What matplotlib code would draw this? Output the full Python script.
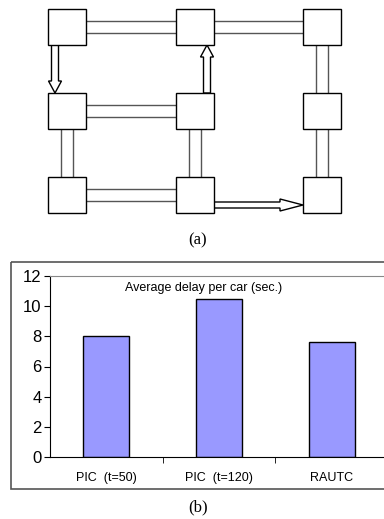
import matplotlib.pyplot as plt
from matplotlib.patches import Rectangle, FancyArrow

# bar chart data
categories = ["PIC  (t=50)", "PIC  (t=120)", "RAUTC"]
delays = [8.0, 10.45, 7.65]
yticks = [0, 2, 4, 6, 8, 10, 12]

# road grid diagram (a): node centres in pixels, roads and arrows as node pairs
col_x = [67, 195, 322]
row_y = [27, 111, 195]
roads = [((0, 0), (1, 0)), ((1, 0), (2, 0)), ((0, 1), (1, 1)), ((0, 2), (1, 2)),
         ((0, 1), (0, 2)), ((1, 1), (1, 2)), ((2, 0), (2, 1)), ((2, 1), (2, 2))]
arrows = [((0, 0), (0, 1), -12), ((1, 1), (1, 0), 12), ((1, 2), (2, 2), 10)]

W, H = 384, 519
BOX_W, BOX_H = 38, 36

plt.rcParams['font.family'] = ['Liberation Sans', 'DejaVu Sans']
fig = plt.figure(figsize=(W / 100, H / 100), dpi=100)

# overlay axes in pixel coordinates for diagram and frame
ov = fig.add_axes([0, 0, 1, 1])
ov.set_xlim(0, W)
ov.set_ylim(H, 0)
ov.axis('off')

def node(c, r):
    return col_x[c], row_y[r]

road_col = '#555555'
for a, b in roads:
    (x1, y1), (x2, y2) = node(*a), node(*b)
    if y1 == y2:
        for d in (-6, 6):
            ov.plot([x1 + BOX_W / 2, x2 - BOX_W / 2], [y1 + d, y1 + d], color=road_col, lw=1)
    else:
        for d in (-6, 6):
            ov.plot([x1 + d, x1 + d], [y1 + BOX_H / 2, y2 - BOX_H / 2], color=road_col, lw=1)

for a, b, off in arrows:
    (x1, y1), (x2, y2) = node(*a), node(*b)
    if x1 == x2:
        sgn = 1 if y2 > y1 else -1
        ys = y1 + sgn * BOX_H / 2
        ye = y2 - sgn * BOX_H / 2
        ov.add_patch(FancyArrow(x1 + off, ys, 0, ye - ys, width=7, head_width=13,
                                head_length=12, length_includes_head=True,
                                facecolor='white', edgecolor='black', lw=1, zorder=3))
    else:
        xs = x1 + BOX_W / 2
        xe = x2 - BOX_W / 2
        ov.add_patch(FancyArrow(xs, y1 + off, xe - xs, 0, width=6, head_width=12,
                                head_length=23, length_includes_head=True,
                                facecolor='white', edgecolor='black', lw=1, zorder=3))

for cx in col_x:
    for cy in row_y:
        ov.add_patch(Rectangle((cx - BOX_W / 2, cy - BOX_H / 2), BOX_W, BOX_H,
                               facecolor='white', edgecolor='black', lw=1, zorder=4))

ov.text(198, 240, "(a)", family='Liberation Serif', fontsize=12, ha='center', va='center')
ov.text(198, 507, "(b)", family='Liberation Serif', fontsize=12, ha='center', va='center')

# chart frame
ov.add_patch(Rectangle((11, 262), 380, 227, facecolor='none', edgecolor='#555555', lw=1.2))

# bar chart (b)
ax = fig.add_axes([50 / W, 1 - 457 / H, 338 / W, 181 / H])
ax.patch.set_alpha(0)
x = range(len(categories))
ax.bar(x, delays, width=0.41, color='#9999ff', edgecolor='black', lw=1)
ax.set_xlim(-0.5, 2.5)
ax.set_ylim(0, 12)
ax.set_yticks(yticks)
ax.set_xticks(list(x))
ax.set_xticklabels(categories, fontsize=9)
ax.tick_params(axis='x', length=0, pad=11)
ax.set_xticks([0.5, 1.5], minor=True)
ax.tick_params(axis='x', which='minor', length=4, direction='out')
ax.tick_params(axis='y', labelsize=12, length=4, direction='out', pad=2)
ax.spines['right'].set_visible(False)
ax.spines['top'].set_color('#888888')
ax.text(0.17, 11.2, "Average delay per car (sec.)", fontsize=9, va='center')

fig.savefig("out.png", dpi=100)
